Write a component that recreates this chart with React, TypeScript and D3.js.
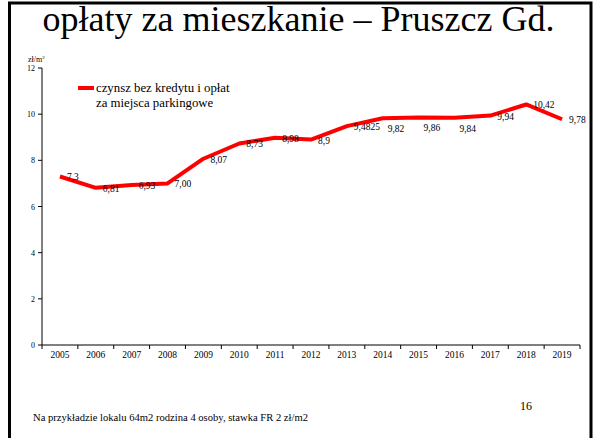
import React from "react";
import * as d3 from "d3";

// chart values
const years = ["2005", "2006", "2007", "2008", "2009", "2010", "2011", "2012", "2013", "2014", "2015", "2016", "2017", "2018", "2019"];
const rent = [7.3, 6.81, 6.93, 7.0, 8.07, 8.73, 8.98, 8.9, 9.4825, 9.82, 9.86, 9.84, 9.94, 10.42, 9.78];
const rentLabels = ["7,3", "6,81", "6,93", "7,00", "8,07", "8,73", "8,98", "8,9", "9,4825", "9,82", "9,86", "9,84", "9,94", "10,42", "9,78"];
const yTicks = [0, 2, 4, 6, 8, 10, 12];
// labels Excel pushed under the line
const labelsBelow = new Set(["2014", "2015", "2016"]);

const W = 597;
const H = 438;
const font = "'Liberation Serif', 'Times New Roman', 'DejaVu Serif', serif";

const App = () => {
  const x = d3.scaleBand().domain(years).range([42, 580]);
  const y = d3.scaleLinear().domain([0, 12]).range([345, 68]);
  const cx = (d: string) => (x(d) ?? 0) + x.bandwidth() / 2;

  const line = d3
    .line<number>()
    .x((_, i) => cx(years[i]))
    .y((v) => y(v));

  // band boundaries for x ticks
  const xTickPos = years.map((d) => x(d) ?? 0).concat([580]);

  return (
    <svg width={W} height={H} style={{ position: "absolute", left: 0, top: 0, background: "#fff", fontFamily: font }}>
      {/* slide frame */}
      <rect x={9.5} y={3} width={581.5} height={440} fill="none" stroke="#000" strokeWidth={3} />

      <text x={298.5} y={31} fontSize={36} textAnchor="middle" fill="#000">
        opłaty za mieszkanie – Pruszcz Gd.
      </text>

      {/* unit */}
      <text x={28} y={62} fontSize={8} fill="#000">
        zł/m<tspan fontSize={5} dy={-3}>2</tspan>
      </text>

      {/* y axis */}
      <line x1={42} x2={42} y1={y(12)} y2={y(0)} stroke="#000" strokeWidth={1} />
      {yTicks.map((t) => (
        <g key={t}>
          <line x1={38} x2={42} y1={y(t)} y2={y(t)} stroke="#000" />
          <text x={35} y={y(t) + 3} fontSize={8} textAnchor="end" fill="#000">
            {t}
          </text>
        </g>
      ))}

      {/* x axis */}
      <line x1={42} x2={580} y1={y(0)} y2={y(0)} stroke="#000" strokeWidth={1} />
      {xTickPos.map((p, i) => (
        <line key={i} x1={p} x2={p} y1={y(0)} y2={y(0) + 4} stroke="#000" />
      ))}
      {years.map((d) => (
        <text key={d} x={cx(d)} y={358} fontSize={9.5} textAnchor="middle" fill="#000">
          {d}
        </text>
      ))}

      {/* series */}
      <path d={line(rent) ?? ""} fill="none" stroke="#ff0000" strokeWidth={4} strokeLinejoin="round" />
      {rent.map((v, i) => {
        const below = labelsBelow.has(years[i]);
        return (
          <text
            key={years[i]}
            x={cx(years[i]) + (below ? 5 : 7)}
            y={y(v) + (below ? 14 : 4)}
            fontSize={9.5}
            fill="#000"
          >
            {rentLabels[i]}
          </text>
        );
      })}

      {/* legend */}
      <line x1={78} x2={94} y1={88} y2={88} stroke="#ff0000" strokeWidth={4} />
      <text x={96} y={92} fontSize={12.8} fill="#000">
        czynsz bez kredytu i opłat
      </text>
      <text x={96} y={107} fontSize={12.8} fill="#000">
        za miejsca parkingowe
      </text>

      {/* footer */}
      <text x={33} y={421} fontSize={10.6} fill="#000">
        Na przykładzie lokalu 64m2 rodzina 4 osoby, stawka FR 2 zł/m2
      </text>
      <text x={520} y={410} fontSize={12} fill="#000">
        16
      </text>
    </svg>
  );
};

export default App;
